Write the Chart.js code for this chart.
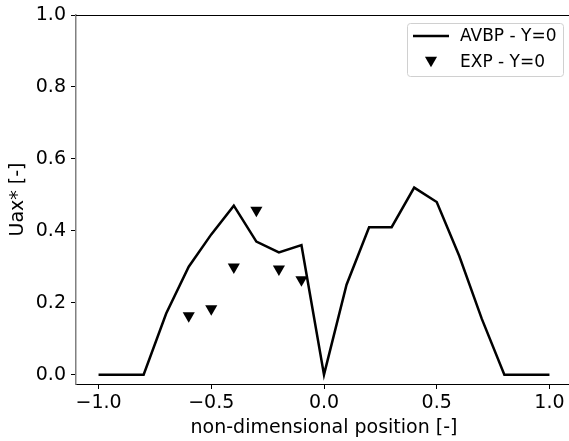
<!DOCTYPE html>
<html>
<head>
<meta charset="utf-8">
<script src="https://cdn.jsdelivr.net/npm/chart.js@4.4.0/dist/chart.umd.min.js"></script>
<style>
  html, body { margin: 0; padding: 0; overflow: hidden; background: #fff; }
  #wrap { width: 620px; height: 441px; }
</style>
</head>
<body>
<div id="wrap"><canvas id="chart" width="576" height="441"></canvas></div>
<script>
// data
const positions = [-1.0, -0.9, -0.8, -0.7, -0.6, -0.5, -0.4, -0.3, -0.2, -0.1, 0.0,
                   0.1, 0.2, 0.3, 0.4, 0.5, 0.6, 0.7, 0.8, 0.9, 1.0];
const avbpValues = [0, 0, 0, 0.17, 0.30, 0.39, 0.47, 0.37, 0.34, 0.36, 0,
                    0.25, 0.41, 0.41, 0.52, 0.48, 0.33, 0.155, 0, 0, 0];
const expPositions = [-0.6, -0.5, -0.4, -0.3, -0.2, -0.1];
const expValues = [0.164, 0.183, 0.299, 0.457, 0.294, 0.264];
const xTicks = [-1.0, -0.5, 0.0, 0.5, 1.0];
const yTicks = [0.0, 0.2, 0.4, 0.6, 0.8, 1.0];

const FONT = "'DejaVu Sans', sans-serif";
const fmt = v => (v < 0 ? "\u2212" : "") + Math.abs(v).toFixed(1);
// plot box runs a little past the window on the right (right spine is cut off)
const AREA_RIGHT = 572;

// top spine + legend box like matplotlib
const decor = {
    id: "decor",
    afterDraw(chart) {
        const ctx = chart.ctx;
        const a = chart.chartArea;
        ctx.save();
        ctx.strokeStyle = "#000";
        ctx.lineWidth = 1;
        ctx.beginPath();
        ctx.moveTo(a.left, a.top + 0.5);
        ctx.lineTo(a.right, a.top + 0.5);
        ctx.stroke();

        // legend
        const bx = a.right - 165, by = a.top + 8, bw = 156, bh = 53, r = 3;
        ctx.fillStyle = "rgba(255,255,255,0.8)";
        ctx.strokeStyle = "#d0d0d0";
        ctx.beginPath();
        ctx.roundRect(bx + 0.5, by + 0.5, bw, bh, r);
        ctx.fill();
        ctx.stroke();

        const ds = chart.data.datasets;
        ctx.font = "17px " + FONT;
        ctx.fillStyle = "#000";
        ctx.textBaseline = "middle";
        const y1 = by + 13, y2 = by + 39;
        ctx.strokeStyle = "#000";
        ctx.lineWidth = 2.5;
        ctx.beginPath();
        ctx.moveTo(bx + 6, y1);
        ctx.lineTo(bx + 42, y1);
        ctx.stroke();
        ctx.fillText(ds[0].label, bx + 53, y1 + 1);

        const tx = bx + 24, rad = 7;
        ctx.beginPath();
        ctx.moveTo(tx, y2 + rad * 0.75);
        ctx.lineTo(tx - rad * 0.866, y2 - rad * 0.75);
        ctx.lineTo(tx + rad * 0.866, y2 - rad * 0.75);
        ctx.closePath();
        ctx.fill();
        ctx.fillText(ds[1].label, bx + 53, y2 + 1);
        ctx.restore();
    }
};

const chart = new Chart(document.getElementById("chart").getContext("2d"), {
    type: "scatter",
    data: {
        datasets: [{
            label: "AVBP - Y=0",
            type: "line",
            data: positions.map((x, i) => ({ x: x, y: avbpValues[i] })),
            borderColor: "#000",
            borderWidth: 2.5,
            pointRadius: 0,
            fill: false,
            tension: 0
        }, {
            label: "EXP - Y=0",
            data: expPositions.map((x, i) => ({ x: x, y: expValues[i] })),
            pointStyle: "triangle",
            rotation: 180,
            pointRadius: 7,
            backgroundColor: "#000",
            borderWidth: 0
        }]
    },
    options: {
        responsive: false,
        maintainAspectRatio: false,
        animation: false,
        layout: { padding: { top: 15, right: 1, left: 0, bottom: 0 } },
        plugins: {
            legend: { display: false },
            tooltip: { enabled: false }
        },
        scales: {
            x: {
                type: "linear",
                min: -1.1,
                max: 1.1,
                afterBuildTicks: s => { s.ticks = xTicks.map(v => ({ value: v })); },
                afterFit: s => { s.height = 57; s.paddingLeft = 0; s.paddingRight = 0; },
                grid: { drawOnChartArea: false, tickLength: 5, tickColor: "#000", tickWidth: 1 },
                border: { color: "#000", width: 1 },
                ticks: { callback: fmt, color: "#000", font: { family: FONT, size: 19 }, padding: 3, maxRotation: 0 },
                title: { display: true, text: "non-dimensional position [-]", color: "#000", font: { family: FONT, size: 19 }, padding: { top: 0, bottom: 2 } }
            },
            y: {
                min: -0.026,
                max: 1.0,
                afterBuildTicks: s => { s.ticks = yTicks.map(v => ({ value: v })); },
                afterFit: s => { s.width = 76; s.paddingTop = 0; s.paddingBottom = 0; },
                grid: { drawOnChartArea: false, tickLength: 5, tickColor: "#000", tickWidth: 1 },
                border: { color: "#808080", width: 1.5 },
                ticks: { callback: fmt, color: "#000", font: { family: FONT, size: 19 }, padding: 5 },
                title: { display: true, text: "Uax* [-]", color: "#000", font: { family: FONT, size: 19 }, padding: { top: 7, bottom: 0 } }
            }
        }
    },
    plugins: [decor]
});

// nudge the canvas width so the plot box ends where the reference's does
const extra = AREA_RIGHT - chart.chartArea.right;
if (Math.abs(extra) > 0.5) {
    chart.resize(chart.width + extra, 441);
}
</script>
</body>
</html>
